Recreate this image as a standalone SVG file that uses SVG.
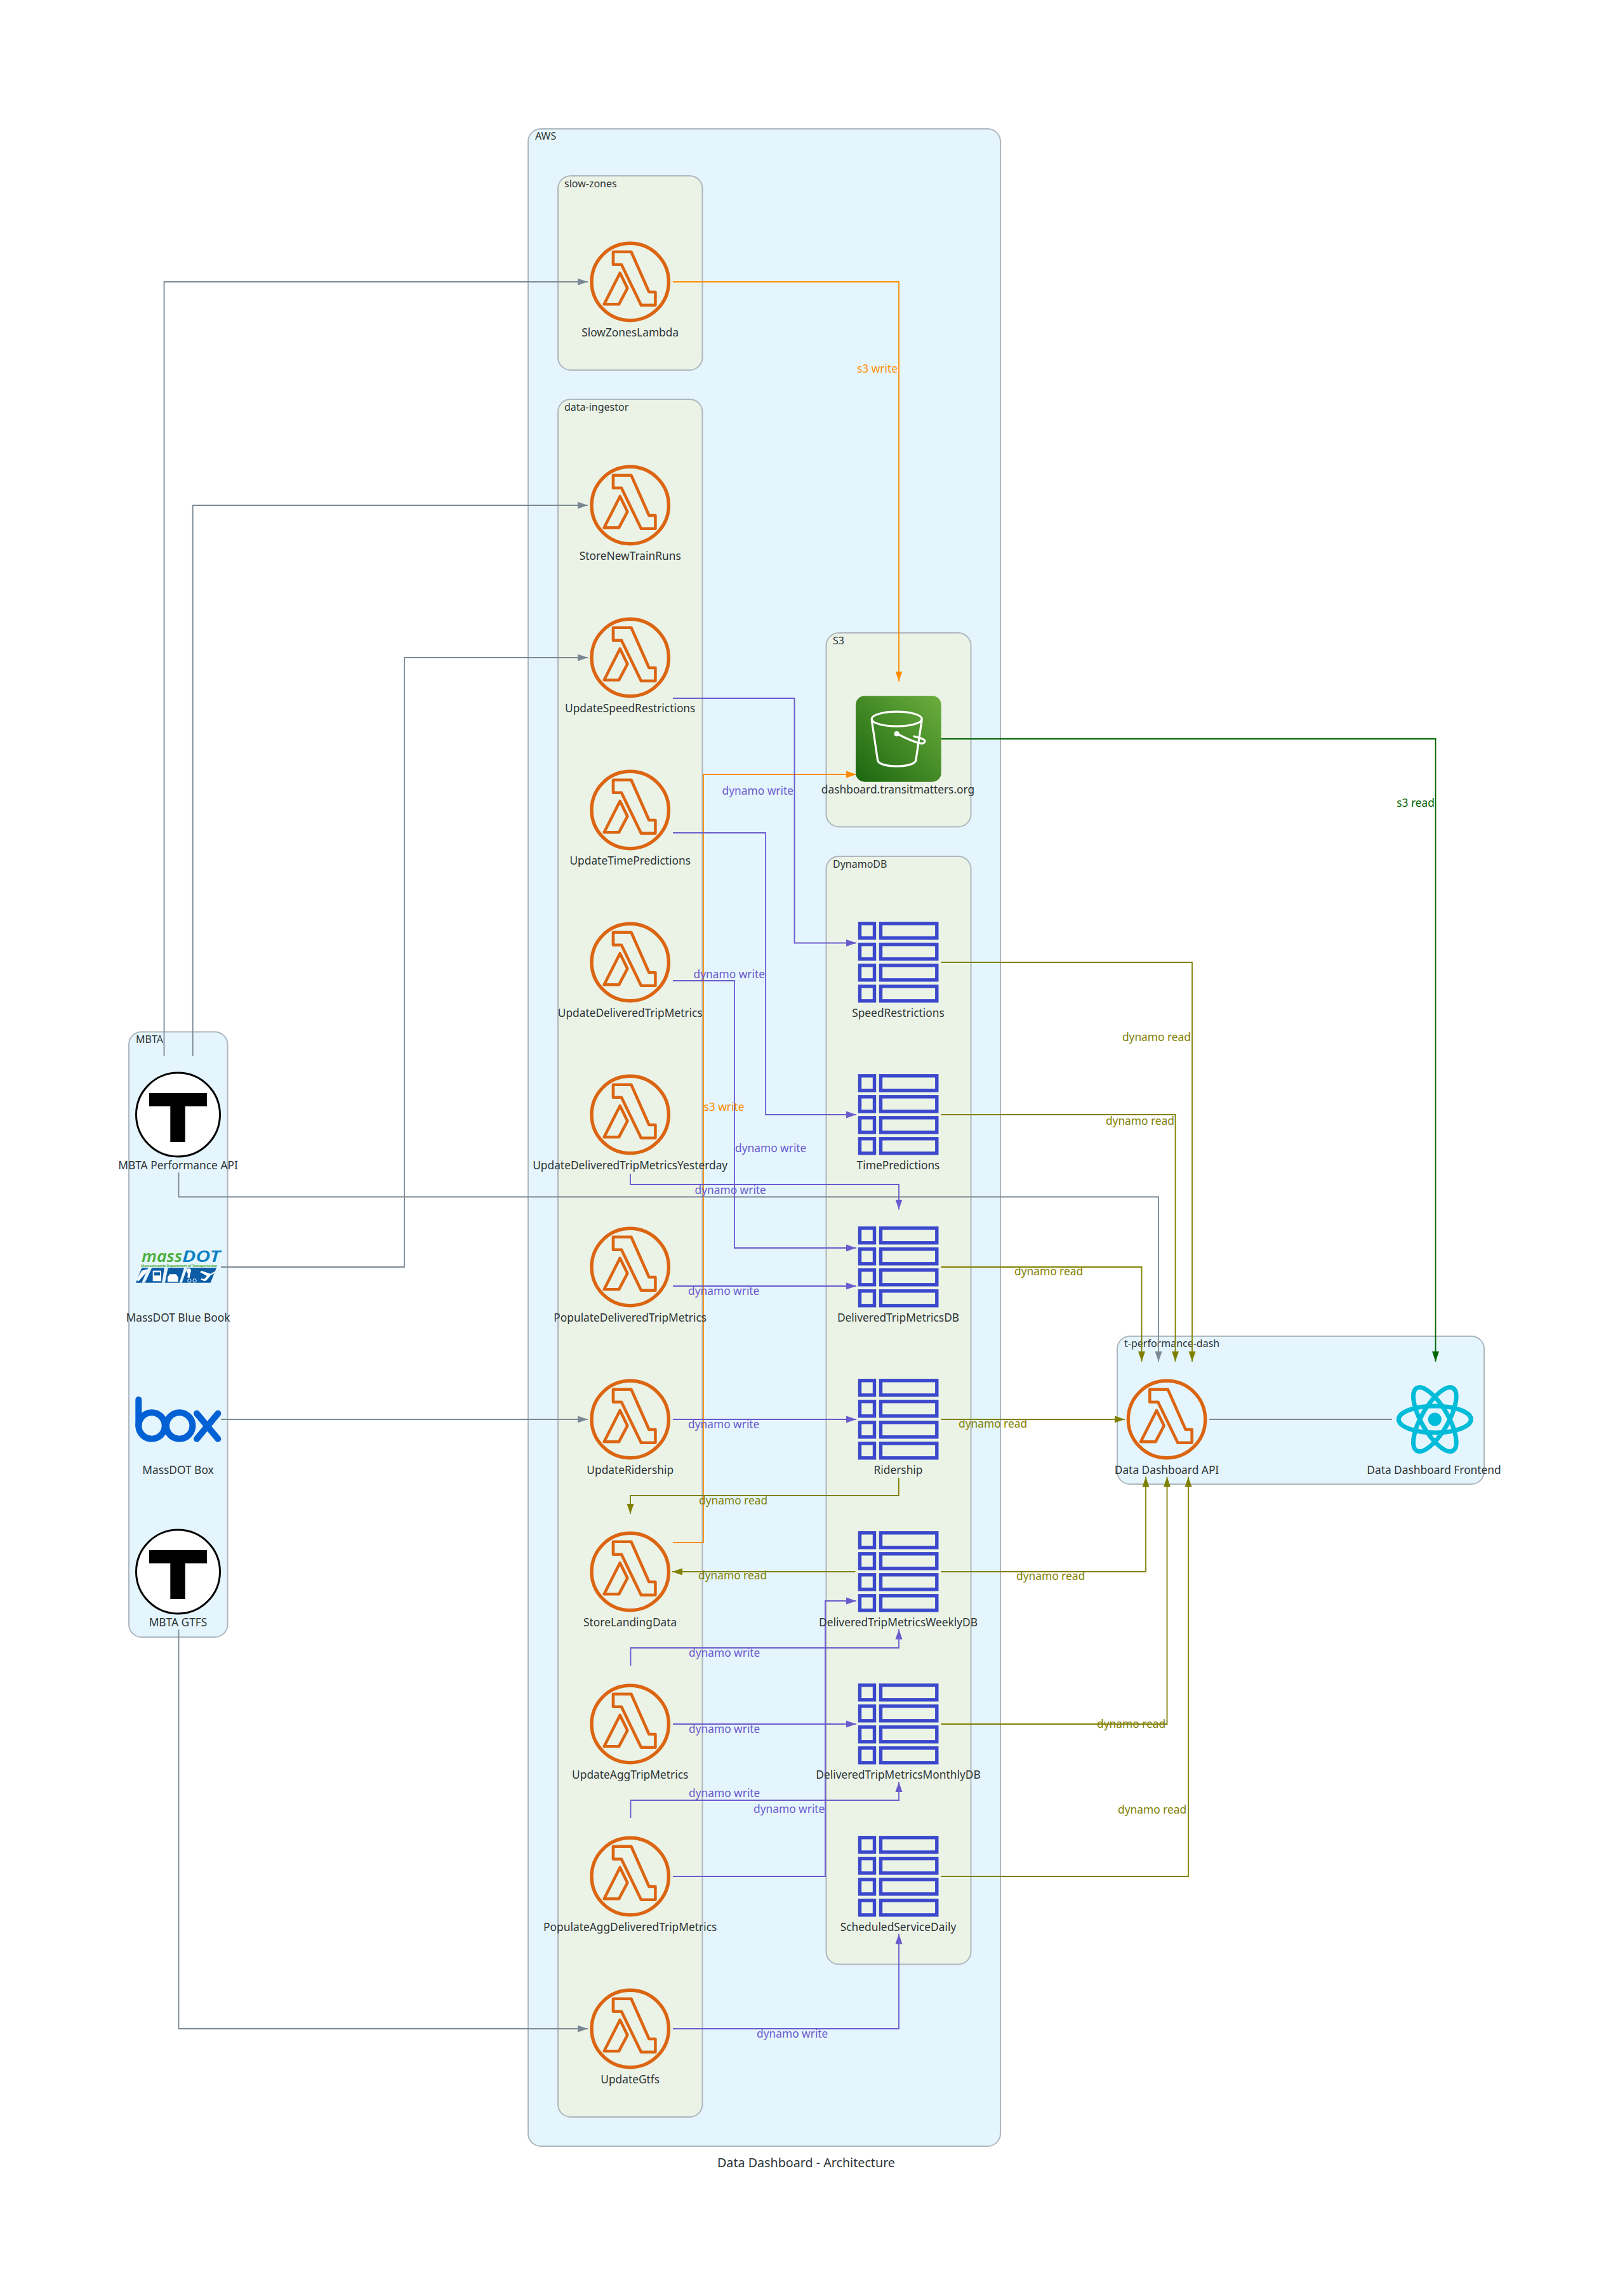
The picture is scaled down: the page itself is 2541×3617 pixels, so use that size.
<svg xmlns="http://www.w3.org/2000/svg" width="2541" height="3617" viewBox="0 0 2541 3617">
<style>
text{font-family:"Noto Sans","Open Sans","DejaVu Sans",sans-serif}
.n{font-size:17.33px;fill:#2d3436;text-anchor:middle}
.c{font-size:16px;fill:#2d3436}
.o{fill:#e5f5fd;stroke:#aeb6be;stroke-width:2}
.i{fill:#ebf3e7;stroke:#aeb6be;stroke-width:2}
.e{fill:none;stroke-width:1.8}
.g{stroke:#7b8894}.ol{stroke:#808000}.sb{stroke:#6a5acd}.dor{stroke:#ff8c00}.dg{stroke:#006400}
.lo{font-size:17.33px;fill:#808000}.ls{font-size:17.33px;fill:#6a5acd}.lr{font-size:17.33px;fill:#ff8c00}.lg{font-size:17.33px;fill:#006400}
.end{text-anchor:end}
</style>
<defs>
<marker id="mg" markerUnits="userSpaceOnUse" markerWidth="16" markerHeight="12" refX="16" refY="6" orient="auto"><path d="M0 .5L16 6L0 11.500z" fill="#7b8894"/></marker>
<marker id="mo" markerUnits="userSpaceOnUse" markerWidth="16" markerHeight="12" refX="16" refY="6" orient="auto"><path d="M0 .5L16 6L0 11.500z" fill="#808000"/></marker>
<marker id="ms" markerUnits="userSpaceOnUse" markerWidth="16" markerHeight="12" refX="16" refY="6" orient="auto"><path d="M0 .5L16 6L0 11.500z" fill="#6a5acd"/></marker>
<marker id="mr" markerUnits="userSpaceOnUse" markerWidth="16" markerHeight="12" refX="16" refY="6" orient="auto"><path d="M0 .5L16 6L0 11.500z" fill="#ff8c00"/></marker>
<marker id="md" markerUnits="userSpaceOnUse" markerWidth="16" markerHeight="12" refX="16" refY="6" orient="auto"><path d="M0 .5L16 6L0 11.500z" fill="#006400"/></marker>
<linearGradient id="s3g" x1="0" y1="1" x2="1" y2="0"><stop offset="0" stop-color="#1b660f"/><stop offset="1" stop-color="#6cae3e"/></linearGradient>
<g id="lam" fill="none" stroke="#dc6512" stroke-linejoin="round">
<circle r="60.700" stroke-width="5.400"/>
<path stroke-width="4.600" d="M-26.700-47.300H1.700L29.700 16H39.700V36.700H17.300L-13.700-27.300H-26.700z"/>
<path stroke-width="4.600" d="M-16-14L-4.300 10L-17.700 35.300H-41z"/>
</g>
<g id="tbl" fill="none" stroke="#3b48cc" stroke-width="5.400">
<rect x="-60.500" y="-61.200" width="23" height="23"/><rect x="-27.500" y="-61.200" width="88.300" height="23"/>
<rect x="-60.500" y="-28.200" width="23" height="23"/><rect x="-27.500" y="-28.200" width="88.300" height="23"/>
<rect x="-60.500" y="4.800" width="23" height="23"/><rect x="-27.500" y="4.800" width="88.300" height="23"/>
<rect x="-60.500" y="37.800" width="23" height="23"/><rect x="-27.500" y="37.800" width="88.300" height="23"/>
</g>
<g id="tlogo">
<circle r="66" fill="#fff" stroke="#000" stroke-width="3"/>
<path d="M-45.500-34H45.500V-13.300H11.200V43H-12.200V-13.300H-45.500z" fill="#000"/>
</g>
</defs>
<rect width="2541" height="3617" fill="#fff"/>
<g id="clusters">
<rect class="o" x="832" y="203" width="744" height="3178" rx="20"/>
<text class="c" x="843" y="220">AWS</text>
<rect class="i" x="879" y="277" width="227.500" height="306" rx="20"/>
<text class="c" x="889" y="295">slow-zones</text>
<rect class="i" x="879" y="629" width="227.500" height="2706" rx="20"/>
<text class="c" x="889" y="647">data-ingestor</text>
<rect class="i" x="1301.500" y="997" width="228" height="305.500" rx="20"/>
<text class="c" x="1312" y="1015">S3</text>
<rect class="i" x="1301.500" y="1349" width="228" height="1745.500" rx="20"/>
<text class="c" x="1312" y="1367">DynamoDB</text>
<rect class="o" x="203" y="1625.500" width="155.500" height="953.500" rx="20"/>
<text class="c" x="214" y="1643">MBTA</text>
<rect class="o" x="1760" y="2105" width="578" height="233" rx="20"/>
<text class="c" x="1771" y="2122">t-performance-dash</text>
</g>
<g id="connectors">
<path class="e g" marker-end="url(#mg)" d="M258.500 1664V444H926"/>
<path class="e g" marker-end="url(#mg)" d="M303.700 1664V796H926"/>
<path class="e g" marker-end="url(#mg)" d="M348 1996H637V1036H926"/>
<path class="e g" marker-end="url(#mg)" d="M348 2236H926"/>
<path class="e g" marker-end="url(#mg)" d="M281.500 2567V3196H926"/>
<path class="e g" marker-end="url(#mg)" d="M281.500 1847V1885.500H1825V2145"/>
<path class="e g" d="M1905 2236H2193"/>
<path class="e dor" marker-end="url(#mr)" d="M1060 444H1416V1073.500"/>
<path class="e dor" marker-end="url(#mr)" d="M1060 2430H1108V1220H1349"/>
<path class="e dg" marker-end="url(#md)" d="M1482.500 1164H2261.500V2145"/>
<path class="e ol" marker-end="url(#mo)" d="M1482.500 1516H1878V2145"/>
<path class="e ol" marker-end="url(#mo)" d="M1482.500 1756H1851.500V2145"/>
<path class="e ol" marker-end="url(#mo)" d="M1482.500 1996H1798.500V2145"/>
<path class="e ol" marker-end="url(#mo)" d="M1482.500 2236H1772"/>
<path class="e ol" marker-end="url(#mo)" d="M1415.800 2328V2356H993V2385"/>
<path class="e ol" marker-end="url(#mo)" d="M1347.500 2476H1059"/>
<path class="e ol" marker-end="url(#mo)" d="M1482.500 2476H1805V2326.500"/>
<path class="e ol" marker-end="url(#mo)" d="M1482.500 2716H1838.500V2326.500"/>
<path class="e ol" marker-end="url(#mo)" d="M1482.500 2956H1872V2326.500"/>
<path class="e sb" marker-end="url(#ms)" d="M1060 1100H1251.500V1485.500H1349"/>
<path class="e sb" marker-end="url(#ms)" d="M1060 1312H1206V1756H1349"/>
<path class="e sb" marker-end="url(#ms)" d="M1060 1545H1157V1966H1349"/>
<path class="e sb" marker-end="url(#ms)" d="M993 1849V1866H1416V1905.500"/>
<path class="e sb" marker-end="url(#ms)" d="M1060 2026H1349"/>
<path class="e sb" marker-end="url(#ms)" d="M1060 2236H1349"/>
<path class="e sb" marker-end="url(#ms)" d="M993.500 2624V2596H1416V2566.500"/>
<path class="e sb" marker-end="url(#ms)" d="M1060 2716H1349"/>
<path class="e sb" marker-end="url(#ms)" d="M993.500 2864V2836H1416V2807"/>
<path class="e sb" marker-end="url(#ms)" d="M1060 2956H1300V2522H1349"/>
<path class="e sb" marker-end="url(#ms)" d="M1060 3196H1416V3046.500"/>
<text class="lr end" x="1414" y="587">s3 write</text>
<text class="lr" x="1108.500" y="1750">s3 write</text>
<text class="lg end" x="2260" y="1271">s3 read</text>
<text class="lo end" x="1876" y="1640">dynamo read</text>
<text class="lo end" x="1850" y="1772">dynamo read</text>
<text class="lo" x="1598" y="2009">dynamo read</text>
<text class="lo" x="1510" y="2249">dynamo read</text>
<text class="lo" x="1101" y="2370">dynamo read</text>
<text class="lo" x="1100" y="2488">dynamo read</text>
<text class="lo" x="1601" y="2489">dynamo read</text>
<text class="lo" x="1728" y="2722">dynamo read</text>
<text class="lo" x="1761" y="2857">dynamo read</text>
<text class="ls end" x="1250" y="1252">dynamo write</text>
<text class="ls end" x="1205" y="1541">dynamo write</text>
<text class="ls" x="1158" y="1815">dynamo write</text>
<text class="ls" x="1094.500" y="1881">dynamo write</text>
<text class="ls" x="1084" y="2040">dynamo write</text>
<text class="ls" x="1084" y="2250">dynamo write</text>
<text class="ls" x="1085" y="2610">dynamo write</text>
<text class="ls" x="1085" y="2730">dynamo write</text>
<text class="ls" x="1085" y="2831">dynamo write</text>
<text class="ls" x="1187" y="2856">dynamo write</text>
<text class="ls" x="1192" y="3210">dynamo write</text>
</g>
<g id="SlowZonesLambda"><use href="#lam" x="992.700" y="444"/><text class="n" x="992.700" y="530">SlowZonesLambda</text></g>
<g id="StoreNewTrainRuns"><use href="#lam" x="992.700" y="796"/><text class="n" x="992.700" y="882">StoreNewTrainRuns</text></g>
<g id="UpdateSpeedRestrictions"><use href="#lam" x="992.700" y="1036"/><text class="n" x="992.700" y="1122">UpdateSpeedRestrictions</text></g>
<g id="UpdateTimePredictions"><use href="#lam" x="992.700" y="1276"/><text class="n" x="992.700" y="1362">UpdateTimePredictions</text></g>
<g id="UpdateDeliveredTripMetrics"><use href="#lam" x="992.700" y="1516"/><text class="n" x="992.700" y="1602">UpdateDeliveredTripMetrics</text></g>
<g id="UpdateDeliveredTripMetricsYesterday"><use href="#lam" x="992.700" y="1756"/><text class="n" x="992.700" y="1842">UpdateDeliveredTripMetricsYesterday</text></g>
<g id="PopulateDeliveredTripMetrics"><use href="#lam" x="992.700" y="1996"/><text class="n" x="992.700" y="2082">PopulateDeliveredTripMetrics</text></g>
<g id="UpdateRidership"><use href="#lam" x="992.700" y="2236"/><text class="n" x="992.700" y="2322">UpdateRidership</text></g>
<g id="StoreLandingData"><use href="#lam" x="992.700" y="2476"/><text class="n" x="992.700" y="2562">StoreLandingData</text></g>
<g id="UpdateAggTripMetrics"><use href="#lam" x="992.700" y="2716"/><text class="n" x="992.700" y="2802">UpdateAggTripMetrics</text></g>
<g id="PopulateAggDeliveredTripMetrics"><use href="#lam" x="992.700" y="2956"/><text class="n" x="992.700" y="3042">PopulateAggDeliveredTripMetrics</text></g>
<g id="UpdateGtfs"><use href="#lam" x="992.700" y="3196"/><text class="n" x="992.700" y="3282">UpdateGtfs</text></g>
<g id="DataDashboardAPI"><use href="#lam" x="1838" y="2236"/><text class="n" x="1838" y="2322">Data Dashboard API</text></g>
<g id="S3Bucket">
<rect x="1348" y="1096.300" width="134.700" height="135.400" rx="14" fill="url(#s3g)"/>
<g fill="none" stroke="#fff" stroke-width="3.200" stroke-linejoin="round" stroke-linecap="round">
<ellipse cx="1412.700" cy="1132.700" rx="39.500" ry="11.500"/>
<path d="M1373.200 1134L1382.700 1198.300C1386 1210 1439 1210 1442.700 1198.300L1452.200 1134"/>
<path d="M1413.500 1156C1425 1162 1440 1169 1450 1171C1458 1172 1459 1166 1453 1164C1448 1162 1444 1161 1440 1160"/>
<circle cx="1412.700" cy="1156" r="2.500"/>
</g>
<text class="n" x="1414.500" y="1250">dashboard.transitmatters.org</text>
</g>
<g id="SpeedRestrictions"><use href="#tbl" x="1415" y="1516"/><text class="n" x="1415" y="1602">SpeedRestrictions</text></g>
<g id="TimePredictions"><use href="#tbl" x="1415" y="1756"/><text class="n" x="1415" y="1842">TimePredictions</text></g>
<g id="DeliveredTripMetricsDB"><use href="#tbl" x="1415" y="1996"/><text class="n" x="1415" y="2082">DeliveredTripMetricsDB</text></g>
<g id="Ridership"><use href="#tbl" x="1415" y="2236"/><text class="n" x="1415" y="2322">Ridership</text></g>
<g id="DeliveredTripMetricsWeeklyDB"><use href="#tbl" x="1415" y="2476"/><text class="n" x="1415" y="2562">DeliveredTripMetricsWeeklyDB</text></g>
<g id="DeliveredTripMetricsMonthlyDB"><use href="#tbl" x="1415" y="2716"/><text class="n" x="1415" y="2802">DeliveredTripMetricsMonthlyDB</text></g>
<g id="ScheduledServiceDaily"><use href="#tbl" x="1415" y="2956"/><text class="n" x="1415" y="3042">ScheduledServiceDaily</text></g>
<g id="DataDashboardFrontend">
<g fill="none" stroke="#00bcd9" stroke-width="7">
<ellipse cx="2260.300" cy="2236" rx="57" ry="21"/>
<ellipse cx="2260.300" cy="2236" rx="57" ry="21" transform="rotate(60 2260.300 2236)"/>
<ellipse cx="2260.300" cy="2236" rx="57" ry="21" transform="rotate(120 2260.300 2236)"/>
</g>
<circle cx="2260.300" cy="2236" r="10.600" fill="#00bcd9"/>
<text class="n" x="2259" y="2322">Data Dashboard Frontend</text>
</g>
<g id="MBTAPerformanceAPI"><use href="#tlogo" x="280.500" y="1756"/><text class="n" x="280.500" y="1842">MBTA Performance API</text></g>
<g id="MassDOTBlueBook">
<text x="223" y="1988" font-size="25" font-style="italic" font-weight="600" fill="#4caf3c" textLength="64" lengthAdjust="spacingAndGlyphs">mass</text>
<text x="287" y="1988" font-size="25" font-style="italic" font-weight="600" fill="#0a7fc2" textLength="60" lengthAdjust="spacingAndGlyphs">DOT</text>
<text x="222" y="1995.500" font-size="5.200" font-weight="700" fill="#4caf3c" textLength="120" lengthAdjust="spacingAndGlyphs">Massachusetts Department of Transportation</text>
<g transform="translate(190 1900) scale(.3333)">
<path d="M100 292H453L425 362H72z" fill="#0b5ba5"/>
<path d="M130 292H148L115 362H100zM207 292H224L210 362H195zM300 292H315L290 362H278z" fill="#e5f5fd"/>
<path d="M152 305H192V355H152z" fill="#fff"/><path d="M158 313H186V328H158z" fill="#0b5ba5"/>
<path d="M222 336L232 322H262L272 336V358H222z" fill="#fff"/>
<circle cx="322" cy="306" r="11" fill="#fff"/><path d="M318 315H330L326 338H316z" fill="#fff"/>
<circle cx="325" cy="352" r="8" fill="none" stroke="#fff" stroke-width="3"/><circle cx="350" cy="352" r="8" fill="none" stroke="#fff" stroke-width="3"/>
<path d="M445 308L425 320L383 306L375 312L408 330L395 345L382 342L378 346L395 355L405 352L425 328L442 318z" fill="#fff"/>
<path d="M100 305L128 298L120 315L85 355L75 350z" fill="#fff"/>
</g>
<text class="n" x="280.500" y="2082">MassDOT Blue Book</text>
</g>
<g id="MassDOTBox">
<g fill="none" stroke="#0061d5" stroke-width="10" stroke-linecap="round">
<path d="M218.300 2205V2246"/><circle cx="239" cy="2246" r="20.700"/><circle cx="282.700" cy="2246" r="20.700"/>
<path d="M310 2226.700L343.300 2266.700M343.300 2226.700L310 2266.700"/>
</g>
<text class="n" x="280.500" y="2322">MassDOT Box</text>
</g>
<g id="MBTAGTFS"><use href="#tlogo" x="280.500" y="2476"/><text class="n" x="280.500" y="2562">MBTA GTFS</text></g>
<text id="title" x="1270" y="3414" font-size="19.700" fill="#2d3436" text-anchor="middle">Data Dashboard - Architecture</text>
</svg>
